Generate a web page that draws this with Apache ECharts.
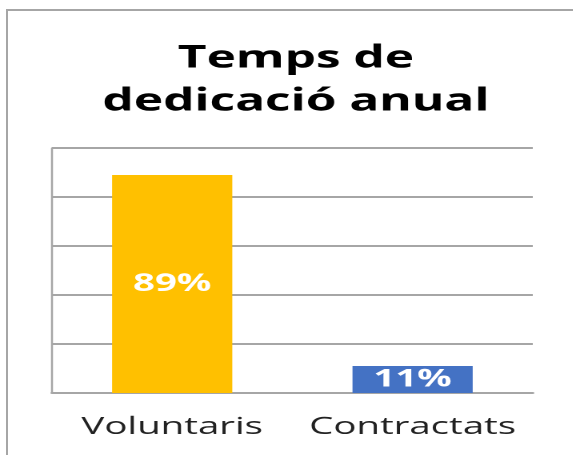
<!DOCTYPE html>
<html>
    <head>
        <meta charset="utf-8">
        <title>Temps de dedicació anual</title>
        <script src="https://cdn.jsdelivr.net/npm/echarts@6/dist/echarts.min.js"></script>
        <style>
            body{margin:0;background:#fff;overflow:hidden;}
            #frame{position:absolute;left:6px;top:9px;width:600px;height:500px;border:2px solid #a6a6a6;box-sizing:border-box;}
            /* the original picture is stretched sideways, so draw narrow and widen */
            #chart{position:absolute;left:0;top:0;width:358px;height:455px;transform:scaleX(1.6);transform-origin:0 0;}
        </style>
    </head>
    <body>
        <div id="frame"></div>
        <div id="chart"></div>
        <script type="text/javascript">
            // data
            var categories=["Voluntaris","Contractats"];
            var values=[89,11];
            var colors=["#FFC000","#4472C4"];

            var myChart=echarts.init(document.getElementById('chart'),null,{devicePixelRatio:2});
            var option={
                title:{text:"Temps de\ndedicació anual",
                        left:180,top:32,textAlign:'center',
                        textStyle:{fontFamily:'Open Sans',fontSize:31,fontWeight:'bold',color:'#000',lineHeight:43}},
                grid:{left:32.5,right:25,top:148,bottom:62},
                xAxis:{type:'category',data:categories,
                        axisLine:{lineStyle:{color:'#a6a6a6',width:2}},
                        axisTick:{show:false},
                        axisLabel:{interval:0,hideOverlap:false,fontFamily:'Open Sans',fontSize:24,color:'#222',margin:22}},
                yAxis:{type:'value',min:0,max:100,interval:20,
                        axisLabel:{show:false},
                        axisLine:{show:true,lineStyle:{color:'#a6a6a6',width:1.25}},
                        splitLine:{lineStyle:{color:'#a6a6a6',width:2}}},
                series:[{type:'bar',barWidth:'50%',
                        data:values.map((v,i)=>({value:v,itemStyle:{color:colors[i]}})),
                        label:{show:true,position:'inside',formatter:'{c}%',
                               fontFamily:'Open Sans',fontSize:24,fontWeight:'bold',color:'#fff'}}]
            };
            myChart.setOption(option);
        </script>
    </body>
</html>
